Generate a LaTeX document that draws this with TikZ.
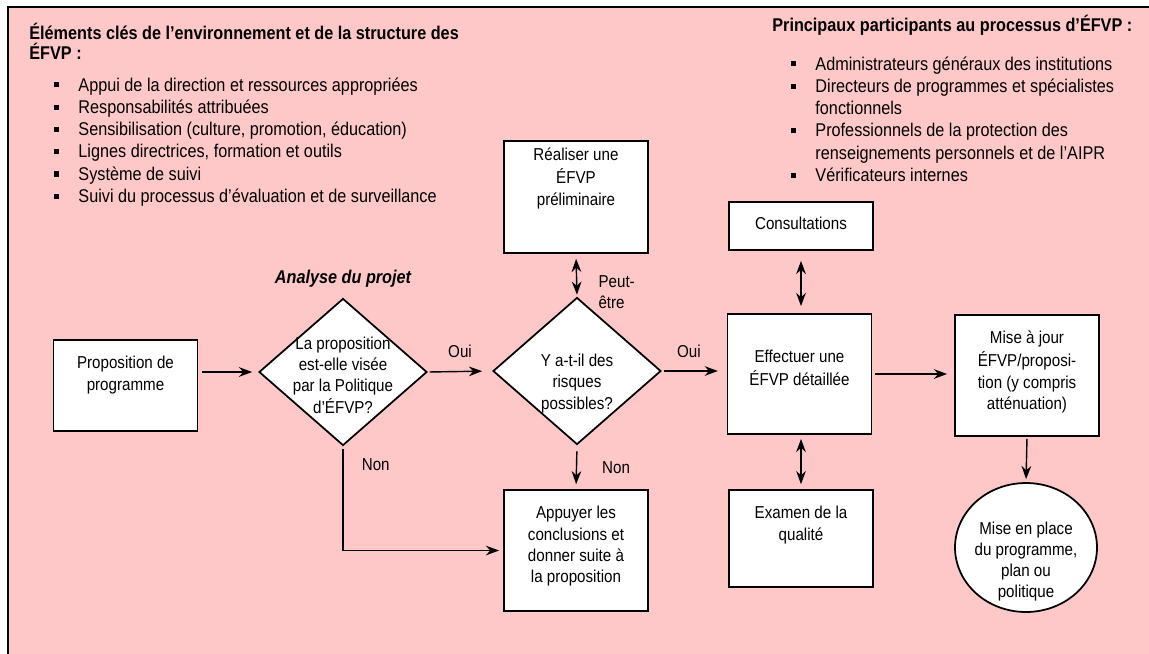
\documentclass[tikz,border=0pt]{standalone}
\usepackage{fontspec}
\setmainfont{Liberation Sans}[FakeStretch=0.88]
\usetikzlibrary{shapes.geometric, arrows.meta}
\definecolor{efvppink}{HTML}{FFC8C8}
\newcommand{\listfont}{\fontsize{10.5}{12.7}\selectfont}
\newcommand{\headfont}{\fontsize{10.5}{11.3}\selectfont\bfseries}
\newcommand{\boxfont}{\fontsize{9.8}{12.1}\selectfont}
\newcommand{\sqb}{\rule[2pt]{3pt}{3pt}}
\newcommand{\boxtext}[3][0.28cm]{\parbox[c][#2][t]{2.88cm}{\centering\vspace*{#1}\strut#3\par}}

\begin{document}
\begin{tikzpicture}[x=0.02cm, y=-0.02cm,
    procbox/.style={draw, fill=white, line width=1pt, inner sep=0pt, font=\boxfont},
    decision/.style={diamond, draw, fill=white, line width=1pt, inner sep=0pt, minimum width=3.36cm, minimum height=2.94cm},
    endell/.style={ellipse, draw, fill=white, line width=1pt, inner sep=0pt, minimum width=2.84cm, minimum height=2.58cm},
    intext/.style={font=\boxfont, align=center, inner sep=0pt},
    lbl/.style={font=\boxfont},
    flow/.style={line width=0.8pt, -{Stealth[length=7.5pt, width=5.5pt]}},
    twoway/.style={line width=0.8pt, {Stealth[length=7.5pt, width=5.5pt]}-{Stealth[length=7.5pt, width=5.5pt]}}]
  \useasboundingbox (0,0) rectangle (1149,653);
  \clip (0,0) rectangle (1149,653);
  \filldraw[fill=efvppink, draw=black, line width=1.2pt] (8,7) rectangle (1165,670);

  % texte d'encadre
  \node[font=\headfont, align=left, anchor=base west, inner sep=0pt] (envhead) at (29,59)
    {Éléments clés de l’environnement et de la structure des\\ÉFVP :};
  \node[font=\listfont, anchor=base west, inner sep=0pt] (envlist) at (53.5,91)
    {\begin{tabular}[t]{@{}l@{\hspace{11pt}}l@{}}
      \sqb & Appui de la direction et ressources appropriées\\
      \sqb & Responsabilités attribuées\\
      \sqb & Sensibilisation (culture, promotion, éducation)\\
      \sqb & Lignes directrices, formation et outils\\
      \sqb & Système de suivi\\
      \sqb & Suivi du processus d’évaluation et de surveillance
    \end{tabular}};
  \node[font=\headfont, anchor=base west, inner sep=0pt] (parthead) at (772,31)
    {Principaux participants au processus d’ÉFVP :};
  \node[font=\listfont, anchor=base west, inner sep=0pt] (partlist) at (790.5,70)
    {\begin{tabular}[t]{@{}l@{\hspace{11pt}}l@{}}
      \sqb & Administrateurs généraux des institutions\\
      \sqb & Directeurs de programmes et spécialistes\\
           & fonctionnels\\
      \sqb & Professionnels de la protection des\\
           & renseignements personnels et de l’AIPR\\
      \sqb & Vérificateurs internes
    \end{tabular}};

  % organigramme
  \node[procbox] (prop) at (125.5,385.5) {\boxtext{1.82cm}{Proposition de\\programme}};
  \node[decision, label={[intext, yshift=-1.7pt]center:{La proposition\\est-elle visée\\par la Politique\\d’ÉFVP?}}] (d1) at (343,372) {};
  \node[font=\listfont\bfseries\itshape] (analyse) at (343,279) {Analyse du projet};
  \node[decision, label={[intext, yshift=-7pt]center:{Y a-t-il des\\risques\\possibles?}}] (d2) at (577,371) {};
  \node[procbox] (real) at (576,197) {\boxtext[0.1cm]{2.24cm}{Réaliser une\\ÉFVP\\préliminaire}};
  \node[procbox] (appuyer) at (576,550.5) {\boxtext{2.42cm}{Appuyer les\\conclusions et\\donner suite à\\la proposition}};
  \node[procbox] (consult) at (801,226) {\boxtext[0.25cm]{0.96cm}{Consultations}};
  \node[procbox] (effect) at (799.5,374) {\boxtext[0.68cm]{2.4cm}{Effectuer une\\ÉFVP détaillée}};
  \node[procbox] (examen) at (801,538.5) {\boxtext{1.94cm}{Examen de la\\qualité}};
  \node[procbox] (maj) at (1027,375.5) {\boxtext{2.42cm}{Mise à jour\\ÉFVP/proposi-\\tion (y compris\\atténuation)}};
  \node[endell, label={[intext, yshift=-8pt]center:{Mise en place\\du programme,\\plan ou\\politique}}] (impl) at (1026,547.5) {};

  \draw[flow, shorten <=2pt, shorten >=3.4pt] (prop.east |- d1.west) -- (d1.west);
  \draw[flow, shorten <=1pt, shorten >=5.7pt] (d1.east) -- node[lbl, above=4pt] (oui1) {Oui} (d2.west);
  \draw[flow, shorten <=1pt, shorten >=5pt] (d2.east) -- node[lbl, above=4pt, xshift=-3pt] (oui2) {Oui} (effect.west |- d2.east);
  \draw[flow, shorten <=1.5pt, shorten >=2.3pt] (d1.south) |- node[lbl, pos=0.09, right=7pt] (non1) {Non} (appuyer.west);
  \draw[flow, shorten <=3.4pt, shorten >=2.8pt] (d2.south) -- node[lbl, right=10.9pt] (non2) {Non} (appuyer.north);
  \draw[twoway, shorten <=2.8pt, shorten >=1.1pt] (real.south) -- node[lbl, pos=0.89, right=8.6pt, align=left] (peut) {Peut-\\être} (d2.north);
  \draw[twoway, shorten <=5.7pt, shorten >=4pt] (consult.south) -- (consult.south |- effect.north);
  \draw[twoway, shorten <=2.3pt, shorten >=2.8pt] (examen.north |- effect.south) -- (examen.north);
  \draw[flow, shorten <=1.7pt, shorten >=4pt] (effect.east) -- (maj.west |- effect.east);
  \draw[flow, shorten <=1.1pt, shorten >=1.7pt] (maj.south) -- (impl.north);
\end{tikzpicture}
\end{document}
